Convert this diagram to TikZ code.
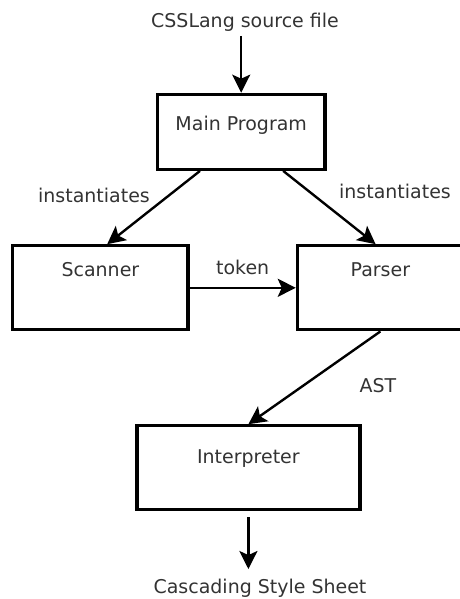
\documentclass[tikz,border=0pt]{standalone}
\usepackage{fontspec}
\setmainfont{DejaVu Sans}
\usetikzlibrary{arrows.meta}

\begin{document}
\begin{tikzpicture}[
  block/.style={rectangle, draw, line width=2.3pt, minimum width=4.2cm, minimum height=2.1cm, text height=0.35cm, text depth=0.93cm},
  arrow/.style={->, line width=1.7pt},
  >={Stealth[length=0.45cm, width=0.45cm, inset=0.1cm]},
  node distance=3.9cm,
  font=\fontsize{13.5}{16}\selectfont,
  text=black!80
]
\useasboundingbox (0,0) rectangle (11.475,-14.975);

\node[block, minimum width=4.19cm, minimum height=1.875cm, text depth=0.44cm] (main) at (6.03,-3.295) {Main Program};
\node[block, minimum width=4.38cm, below of=main, xshift=-3.52cm] (scanner) {Scanner};
\node[block, minimum width=4.15cm, right of=scanner, node distance=7cm] (parser) {Parser};
\node[block, minimum width=5.575cm, text depth=0.55cm, below of=main, node distance=8.4cm, xshift=0.18cm] (interp) {Interpreter\hspace{0.6cm}};

\node (src) at (6.125,-0.545) {CSSLang source file};
\node (css) at (6.5,-14.7) {Cascading Style Sheet};
\node (instl) at (2.35,-4.89) {instantiates};
\node (instr) at (9.875,-4.775) {instantiates};
\node (ast) at (9.45,-9.65) {AST};

\draw[arrow] (src.south -| main.north) -- (main.north);
\draw[arrow] ([xshift=-1.03cm]main.south) -- ([xshift=0.17cm]scanner.north);
\draw[arrow] ([xshift=1.05cm]main.south) -- ([xshift=-0.12cm]parser.north);
\draw[arrow] (scanner) -- node[above=0.17cm] (token) {token} (parser);
\draw[arrow] (parser.south) -- (interp.north);
\draw[arrow, shorten <=0.15cm, shorten >=0.12cm] (interp.south) -- (interp.south |- css.north);
\end{tikzpicture}
\end{document}
